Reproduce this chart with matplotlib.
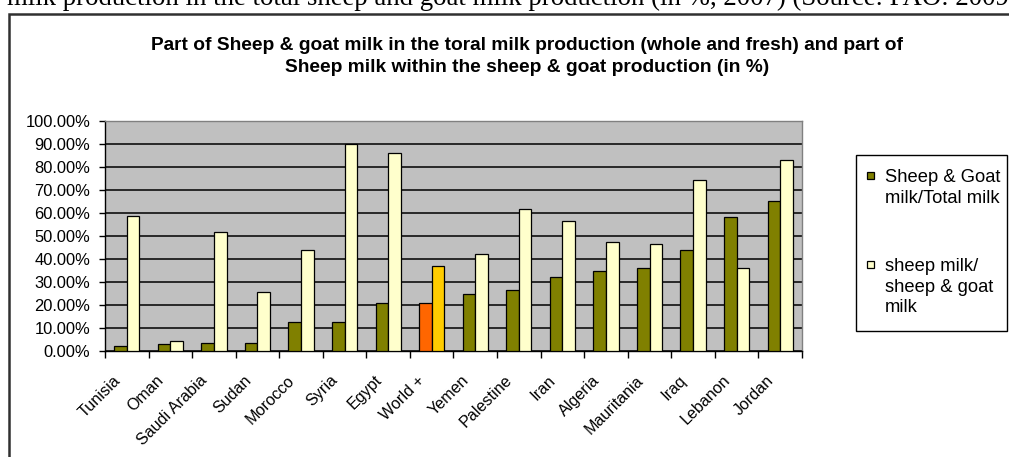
import matplotlib
matplotlib.use("Agg")
import matplotlib.pyplot as plt
import matplotlib.transforms as mtransforms
from matplotlib.patches import Rectangle
from matplotlib.ticker import FuncFormatter, MultipleLocator
import numpy as np

# ---------------- data ----------------
categories = ["Tunisia", "Oman", "Saudi Arabia", "Sudan", "Morocco", "Syria", "Egypt",
              "World +", "Yemen", "Palestine", "Iran", "Algeria", "Mauritania", "Iraq",
              "Lebanon", "Jordan"]
sheep_goat_total = [2.3, 2.9, 3.3, 3.3, 12.4, 12.4, 21.0, 21.0, 25.0, 26.5, 32.1, 34.6,
                    36.2, 43.7, 58.3, 65.4]
sheep_within_sg = [58.8, 4.5, 51.7, 25.5, 44.1, 90.0, 86.0, 37.0, 42.1, 61.8, 56.7, 47.2,
                   46.6, 74.4, 36.2, 82.9]
series_names = ["Sheep & Goat\nmilk/Total milk", "sheep milk/\nsheep & goat\nmilk"]
highlight_category = "World +"

title_lines = ["Part of Sheep & goat milk in the toral milk production (whole and fresh) and part of",
               "Sheep milk within the sheep & goat production (in %)"]
caption = ("milk production in the total sheep and goat milk production (in %, 2007) "
           "(Source: FAO: 2009)")

# ---------------- style ----------------
c1, c2 = "#808000", "#FFFFCC"
h1, h2 = "#FF6600", "#FFCC00"
W, H = 1009, 457
fig = plt.figure(figsize=(W / 100, H / 100), dpi=100)
fig.patch.set_facecolor("white")
sans = "Liberation Sans"
renderer = fig.canvas.get_renderer()


def fx(px):
    return px / W


def fy(py):
    return 1 - py / H


def fitted_size(s, target_px, **kw):
    t = fig.text(0, 0, s, fontsize=10, **kw)
    w = t.get_window_extent(renderer).width
    t.remove()
    return 10 * target_px / w


# outer frame (extends past right / bottom edges)
fig.patches.append(Rectangle((fx(9), fy(470)), fx(1030), fy(14) - fy(470),
                             transform=fig.transFigure, fill=False,
                             edgecolor="#303030", linewidth=1.8, zorder=0))

# clipped caption line at the very top
cap_size = fitted_size(caption[:-1], 1002, fontfamily="Liberation Serif")
fig.text(fx(7), fy(5), caption, fontfamily="Liberation Serif", fontsize=cap_size,
         ha="left", va="baseline", color="black")

# title
title_size = fitted_size(title_lines[0], 750, fontfamily=sans, fontweight="bold")
for yy, line in zip([46, 68], title_lines):
    fig.text(fx(527), fy(yy), line, fontfamily=sans, fontweight="bold",
             fontsize=title_size, ha="center", va="center")

# axes
ax_l, ax_r, ax_t, ax_b = 105, 802, 121, 351
ax = fig.add_axes([fx(ax_l), fy(ax_b), fx(ax_r - ax_l), fy(ax_t) - fy(ax_b)])
ax.set_facecolor("#C0C0C0")

x = np.arange(len(categories))
bw = 0.29
colors1 = [h1 if c == highlight_category else c1 for c in categories]
colors2 = [h2 if c == highlight_category else c2 for c in categories]
ax.bar(x - bw / 2, sheep_goat_total, width=bw, color=colors1, edgecolor="black",
       linewidth=0.9, zorder=3)
ax.bar(x + bw / 2, sheep_within_sg, width=bw, color=colors2, edgecolor="black",
       linewidth=0.9, zorder=3)

ax.set_xlim(-0.5, len(categories) - 0.5)
ax.set_ylim(0, 100)
ax.yaxis.set_major_locator(MultipleLocator(10))
ax.yaxis.set_major_formatter(FuncFormatter(lambda v, p: f"{v:.2f}%"))
ax.grid(axis="y", color="black", linewidth=1.1, zorder=1)
ax.set_axisbelow(True)

ax.set_xticks(np.arange(len(categories) + 1) - 0.5)
ax.set_xticklabels([])
ytick_size = fitted_size("100.00%", 65, fontfamily=sans)
ax.tick_params(axis="x", direction="out", length=5, width=1, color="black")
ax.tick_params(axis="y", direction="out", length=4.5, width=1, color="black",
               labelsize=ytick_size, pad=6)
for lab in ax.get_yticklabels():
    lab.set_fontfamily(sans)

for s in ("left", "bottom"):
    ax.spines[s].set_color("black")
    ax.spines[s].set_linewidth(1.0)
for s in ("top", "right"):
    ax.spines[s].set_color("#808080")
    ax.spines[s].set_linewidth(1.0)

# category labels rotated 45 degrees
xlab_size = fitted_size("Saudi Arabia", 92, fontfamily=sans)
base = mtransforms.blended_transform_factory(ax.transData, ax.transAxes)
lab_tr = mtransforms.offset_copy(base, fig=fig, x=-9, y=-27, units="dots")
for xi, cat in zip(x, categories):
    ax.text(xi, 0, cat, transform=lab_tr, rotation=45, rotation_mode="anchor",
            ha="right", va="center", fontfamily=sans, fontsize=xlab_size, clip_on=False)

# legend (manual, Excel style)
lg_l, lg_r, lg_t, lg_b = 856, 1007, 155, 331
fig.patches.append(Rectangle((fx(lg_l), fy(lg_b)), fx(lg_r - lg_l), fy(lg_t) - fy(lg_b),
                             transform=fig.transFigure, facecolor="white",
                             edgecolor="black", linewidth=1.0, zorder=5))
leg_size = fitted_size("Sheep & Goat", 116, fontfamily=sans)
entry_tops = [172, 261]
for top, name, col in zip(entry_tops, series_names, [c1, c2]):
    fig.patches.append(Rectangle((fx(867), fy(top + 7)), fx(7), fy(top) - fy(top + 7),
                                 transform=fig.transFigure, facecolor=col,
                                 edgecolor="black", linewidth=0.9, zorder=6))
    fig.text(fx(885), fy(top - 3), name, fontfamily=sans, fontsize=leg_size,
             ha="left", va="top", linespacing=1.27, zorder=6)

fig.savefig("out.png", dpi=100)
